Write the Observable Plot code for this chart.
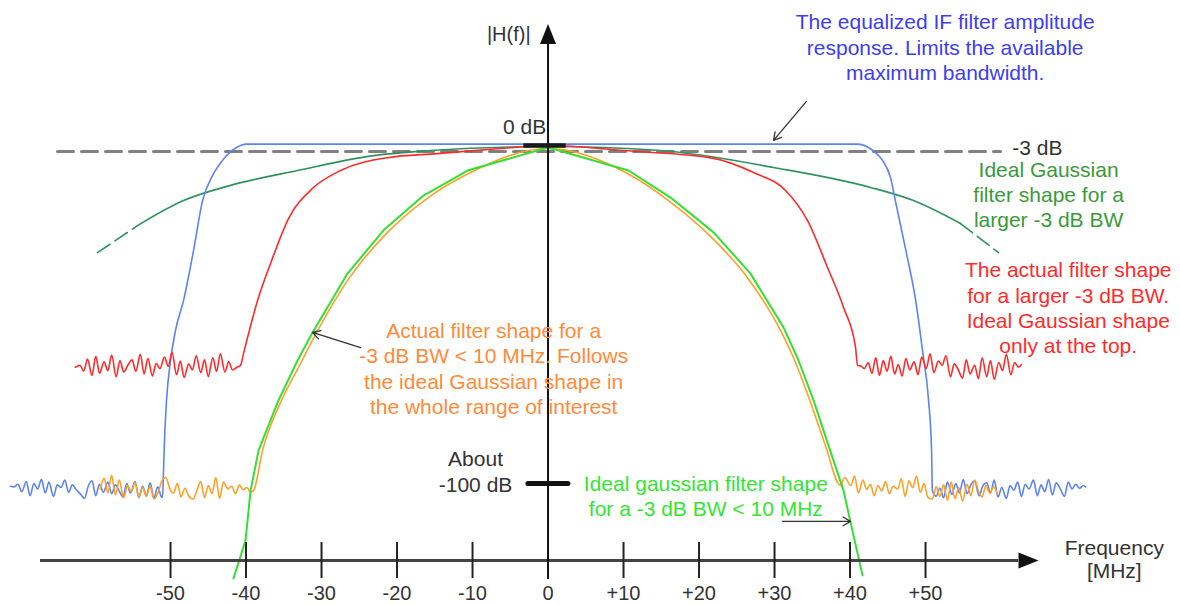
<!DOCTYPE html>
<html>
<head>
<meta charset="utf-8">
<script src="https://cdn.jsdelivr.net/npm/d3@7"></script>
<script src="https://cdn.jsdelivr.net/npm/@observablehq/plot@0.6"></script>
<style>
html, body { margin: 0; padding: 0; background: #fff; }
#chart svg { display: block; }
</style>
</head>
<body>
<div id="chart"></div>
<script>
// ---------- Data (frequency in MHz, level in dB) ----------
const tickValues = [-50, -40, -30, -20, -10, 0, 10, 20, 30, 40, 50];
const tickLabels = ["-50", "-40", "-30", "-20", "-10", "0", "+10", "+20", "+30", "+40", "+50"];

// Equalized IF filter (blue)
const blueNoiseLF = [-71.2,-70.7,-70.2,-69.7,-69.1,-68.6,-68.1,-67.6,-67.1,-66.6,-66.1,-65.5,-65.0,-64.5,-64.0,-63.5,-63.0,-62.5,-61.9,-61.4,-60.9,-60.4,-59.9,-59.4,-58.9,-58.3,-57.8,-57.3,-56.8,-56.3,-55.8,-55.3,-54.7,-54.2,-53.7,-53.2,-52.7,-52.2,-51.7,-51.2];
const blueNoiseLDb = [-100.8,-101.0,-100.2,-102.4,-99.4,-103.6,-100.0,-101.6,-98.8,-102.8,-99.6,-103.8,-100.4,-101.2,-99.0,-102.6,-100.4,-101.8,-103.2,-104.4,-100.8,-99.2,-103.6,-100.2,-102.6,-99.6,-103.0,-100.4,-102.2,-104.0,-100.0,-102.8,-99.4,-104.2,-100.8,-103.6,-99.8,-104.4,-101.0,-104.0];
const blueEdgeLF = [-51.06,-50.93,-50.80,-50.53,-50.0,-49.34,-48.28,-46.95,-45.76,-44.44,-43.11,-42.05,-40.99,-40.07];
const blueEdgeLDb = [-104.1,-96.2,-87.3,-75.4,-63.6,-54.7,-45.9,-31.1,-16.3,-8.9,-4.4,-1.8,-0.3,0.4];
const blueEdgeRF = [41.0,42.2,43.2,44.3,45.4,46.0,47.4,48.7,49.6,50.4,50.8,50.9];
const blueEdgeRDb = [0.4,-0.3,-1.8,-4.4,-9.8,-16.3,-31.1,-45.9,-60.7,-75.4,-90.2,-102.1];
const blueNoiseRF = [51.4,51.9,52.4,52.9,53.5,54.0,54.5,55.0,55.5,56.0,56.5,57.1,57.6,58.1,58.6,59.1,59.6,60.1,60.7,61.2,61.7,62.2,62.7,63.2,63.7,64.3,64.8,65.3,65.8,66.3,66.8,67.3,67.9,68.4,68.9,69.4,69.9,70.4,70.9,71.2];
const blueNoiseRDb = [-103.8,-101.4,-104.2,-99.6,-103.2,-100.0,-102.8,-98.8,-103.0,-100.4,-99.2,-103.6,-100.6,-99.8,-102.8,-99.0,-104.0,-101.2,-104.4,-100.6,-102.0,-99.6,-103.8,-100.2,-101.6,-99.0,-103.6,-100.4,-102.4,-98.8,-103.4,-99.8,-101.8,-103.8,-99.6,-101.6,-100.2,-101.4,-100.6,-101.0];

// Actual filter, larger BW (red)
const redNoiseLF = [-62.6,-62.0,-61.5,-61.0,-60.4,-59.9,-59.4,-58.8,-58.3,-57.8,-57.2,-56.7,-56.2,-55.6,-55.1,-54.6,-54.0,-53.5,-53.0,-52.4,-51.9,-51.4,-50.8,-50.3,-49.8,-49.2,-48.7,-48.2,-47.6,-47.1,-46.6,-46.0,-45.5,-45.0,-44.4,-43.9,-43.4,-42.8,-42.3,-41.8,-41.2,-40.8];
const redNoiseLDb = [-65.6,-65.0,-66.8,-63.2,-68.0,-62.4,-67.4,-64.0,-66.6,-62.0,-68.4,-63.6,-67.0,-64.8,-63.4,-66.8,-61.8,-67.6,-63.0,-68.2,-64.4,-66.0,-62.6,-65.4,-61.2,-67.8,-63.8,-68.6,-64.6,-66.4,-62.2,-67.2,-63.4,-68.4,-62.8,-66.8,-61.6,-67.0,-64.0,-66.4,-65.6,-65.2];
const redMainF = [-40.73,-40.33,-38.48,-36.75,-34.37,-31.19,-27.48,-21.26,-14.64,-6.29,0,10.0,21.92,27.22,31.46,34.37,37.02,39.14,40.73,41.0];
const redMainDb = [-65.1,-61.5,-45.9,-34.9,-21.6,-12.7,-7.4,-3.6,-2.4,-0.9,0,-1.5,-3.8,-8.0,-13.3,-22.2,-36.1,-47.9,-59.8,-65.1];
const redNoiseRF = [41.4,41.9,42.4,42.9,43.4,43.9,44.4,44.9,45.4,45.9,46.4,46.9,47.4,47.9,48.5,49.0,49.5,50.1,50.6,51.1,51.7,52.2,52.7,53.3,53.8,54.3,54.9,55.4,55.9,56.5,57.0,57.5,58.1,58.6,59.1,59.7,60.2,60.7,61.3,61.8,62.3,62.7];
const redNoiseRDb = [-65.2,-66.0,-64.2,-67.4,-62.8,-68.0,-63.6,-66.8,-62.4,-67.6,-64.8,-68.2,-63.0,-66.4,-64.0,-67.8,-62.6,-66.0,-61.6,-67.2,-63.8,-65.0,-62.2,-68.4,-64.6,-66.2,-68.8,-63.4,-67.6,-65.0,-69.0,-62.8,-68.4,-63.6,-69.2,-64.2,-66.6,-61.8,-67.8,-64.2,-65.6,-64.8];

// Actual filter, BW < 10 MHz (orange)
const orangeNoiseLF = [-59.3,-58.8,-58.3,-57.8,-57.3,-56.8,-56.2,-55.7,-55.2,-54.7,-54.2,-53.7,-53.2,-52.7,-52.2,-51.6,-51.1,-50.6,-50.1,-49.6,-49.1,-48.6,-48.1,-47.6,-47.0,-46.5,-46.0,-45.5,-45.0,-44.5,-44.0,-43.5,-43.0,-42.4,-41.9,-41.4,-40.9,-40.4,-39.9,-39.4];
const orangeNoiseLDb = [-101.6,-98.4,-102.8,-97.6,-103.4,-99.0,-104.2,-100.6,-102.4,-99.8,-104.0,-101.2,-103.8,-100.8,-104.6,-102.4,-99.0,-98.2,-101.6,-102.8,-100.0,-104.0,-101.4,-103.6,-104.6,-102.0,-99.4,-104.2,-100.6,-103.0,-98.2,-104.4,-99.6,-101.6,-100.8,-103.0,-100.4,-101.8,-101.2,-102.6];
const orangeMainF = [-39.0,-37.81,-35.3,-32.78,-30.93,-26.29,-21.52,-16.23,-10.53,0,10.53,15.96,21.52,26.42,30.79,32.78,34.77,36.75,38.74];
const orangeMainDb = [-102.1,-90.2,-75.4,-64.5,-56.5,-39.1,-26.3,-16.0,-8.3,-0.9,-8.3,-16.3,-26.9,-39.1,-54.7,-64.2,-76.0,-88.8,-100.6];
const orangeNoiseRF = [39.3,40.1,40.6,41.1,41.7,42.2,42.7,43.2,43.7,44.2,44.7,45.2,45.7,46.3,46.8,47.3,47.8,48.3,48.8,49.3,49.8,50.3,50.9,51.4,51.9,52.4,52.9,53.4,53.9,54.4,54.9,55.5,56.0,56.5,57.0,57.5,58.0,58.5,59.0,59.5];
const orangeNoiseRDb = [-98.2,-100.6,-97.8,-102.8,-99.0,-101.8,-100.2,-103.6,-100.6,-102.2,-99.4,-103.0,-100.8,-101.6,-98.6,-103.8,-99.2,-101.2,-97.8,-102.6,-100.0,-104.0,-104.6,-101.0,-103.8,-100.4,-105.0,-99.6,-104.4,-101.2,-105.2,-100.2,-103.6,-99.0,-102.2,-104.0,-100.6,-102.8,-101.0,-103.0];

// Ideal Gaussian, BW < 10 MHz (light green)
const gaussNarrowF = [-41.66,-40.07,-39.4,-38.34,-35.7,-33.18,-31.19,-26.56,-21.79,-16.49,-10.66,0,10.66,16.23,21.92,26.82,31.19,33.18,35.17,37.15,39.14,40.07,41.66];
const gaussNarrowDb = [-128.1,-116.9,-102.1,-90.2,-75.4,-63.6,-55.3,-37.9,-25.1,-14.8,-7.4,-0.6,-7.4,-15.4,-25.7,-37.9,-53.8,-63.6,-75.4,-88.8,-102.1,-111.5,-127.2];

// Ideal Gaussian, larger BW (dark green)
const gaussWideF = [-54.37,-48.28,-42.05,-33.18,-23.11,-15.56,0,14.9,29.87,42.72,48.41,54.64];
const gaussWideDb = [-23.7,-16.3,-11.8,-7.4,-3.0,-1.5,-0.3,-1.5,-6.5,-12.4,-16.3,-23.1];
const gaussWideTailLF = [-59.67,-54.37];
const gaussWideTailLDb = [-31.7,-23.7];
const gaussWideTailRF = [54.64,59.67];
const gaussWideTailRDb = [-23.1,-31.7];

// -3 dB reference and level markers
const minus3F = [-64.97, 59.93];
const minus3Db = [-1.8, -1.8];
const markerLevels = [0, -100];

// Annotation texts
const labelBlue = "The equalized IF filter amplitude\nresponse. Limits the available\nmaximum bandwidth.";
const labelWide = "Ideal Gaussian\nfilter shape for a\nlarger -3 dB BW";
const labelRed = "The actual filter shape\nfor a larger -3 dB BW.\nIdeal Gaussian shape\nonly at the top.";
const labelOrange = "Actual filter shape for a\n-3 dB BW < 10 MHz. Follows\nthe ideal Gaussian shape in\nthe whole range of interest";
const labelNarrow = "Ideal gaussian filter shape\nfor a -3 dB BW < 10 MHz";
const labelAbout = "About\n-100 dB";

// ---------- Helpers ----------
const zip = (fs, dbs) => fs.map((f, i) => ({f, db: dbs[i]}));
const blueLine = [
  ...zip(blueNoiseLF, blueNoiseLDb), ...zip(blueEdgeLF, blueEdgeLDb),
  ...zip(blueEdgeRF, blueEdgeRDb), ...zip(blueNoiseRF, blueNoiseRDb)
];
const redLine = [...zip(redNoiseLF, redNoiseLDb), ...zip(redMainF, redMainDb), ...zip(redNoiseRF, redNoiseRDb)];
const orangeLine = [...zip(orangeNoiseLF, orangeNoiseLDb), ...zip(orangeMainF, orangeMainDb), ...zip(orangeNoiseRF, orangeNoiseRDb)];
const narrowLine = zip(gaussNarrowF, gaussNarrowDb);
const wideLine = zip(gaussWideF, gaussWideDb);
const wideTailL = zip(gaussWideTailLF, gaussWideTailLDb);
const wideTailR = zip(gaussWideTailRF, gaussWideTailRDb);
const minus3Line = zip(minus3F, minus3Db);
const ticks = tickValues.map((v, i) => ({f: v, label: tickLabels[i]}));

const arrowRight = {draw(ctx, size) { const r = Math.sqrt(size / Math.PI); ctx.moveTo(-r, -0.8 * r); ctx.lineTo(r, 0); ctx.lineTo(-r, 0.8 * r); ctx.closePath(); }};
const arrowUp = {draw(ctx, size) { const r = Math.sqrt(size / Math.PI); ctx.moveTo(-0.8 * r, r); ctx.lineTo(0, -r); ctx.lineTo(0.8 * r, r); ctx.closePath(); }};

const FONT = "Liberation Sans, Arial, Helvetica, sans-serif";
const C = {
  blue: "#5b84f2", red: "#ff2a2a", orange: "#ffa028", narrow: "#33e033", wide: "#2f9160",
  blueText: "#3d3df0", wideText: "#3a9a3a", redText: "#ff2a2a", orangeText: "#ff8a3a", narrowText: "#33e633",
  axis: "#222", dash: "#808080", text: "#333"
};
const txt = (text, f, db, fill, extra = {}) =>
  Plot.text([text], {x: () => f, y: () => db, text: d => d, fill, fontSize: 21, fontFamily: FONT, lineHeight: 1.2, ...extra});
const SMOOTH = "monotone-x";

const chart = Plot.plot({
  width: 1180,
  height: 605,
  margin: 0,
  x: {domain: [-72.52, 83.77], range: [0, 1180], axis: null},
  y: {domain: [-136.09, 42.9], range: [605, 0], axis: null},
  style: {background: "#fff", fontFamily: FONT, overflow: "visible"},
  marks: [
    // -3 dB dashed reference
    Plot.line(minus3Line, {x: "f", y: "db", stroke: C.dash, strokeWidth: 3, strokeDasharray: "16,8"}),
    // ideal Gaussian larger BW
    Plot.line(wideLine, {x: "f", y: "db", stroke: C.wide, strokeWidth: 1.6, curve: SMOOTH}),
    Plot.line(wideTailL, {x: "f", y: "db", stroke: C.wide, strokeWidth: 1.6, strokeDasharray: "15,6"}),
    Plot.line(wideTailR, {x: "f", y: "db", stroke: C.wide, strokeWidth: 1.6, strokeDasharray: "15,6"}),
    // equalized IF filter
    Plot.line(blueLine, {x: "f", y: "db", stroke: C.blue, strokeWidth: 1.6, curve: SMOOTH}),
    // actual filter larger BW
    Plot.line(redLine, {x: "f", y: "db", stroke: C.red, strokeWidth: 1.6, curve: SMOOTH}),
    // actual filter < 10 MHz
    Plot.line(orangeLine, {x: "f", y: "db", stroke: C.orange, strokeWidth: 1.6, curve: SMOOTH}),
    // ideal Gaussian < 10 MHz
    Plot.line(narrowLine, {x: "f", y: "db", stroke: C.narrow, strokeWidth: 2}),

    // frequency axis
    Plot.ruleY([-122.8], {x1: -67.22, x2: 62.32, stroke: "#444", strokeWidth: 3}),
    Plot.dot([{f: 63.64, db: -122.8}], {x: "f", y: "db", r: 10, symbol: arrowRight, fill: "#111", stroke: "none"}),
    Plot.ruleX(ticks.filter(d => d.f !== 0), {x: "f", y1: -117.46, y2: -128.1, stroke: C.axis, strokeWidth: 2}),
    Plot.text(ticks, {x: "f", y: () => -132.6, text: "label", fill: C.text, fontSize: 20, fontFamily: FONT}),
    // vertical axis
    Plot.ruleX([0], {y1: -128.4, y2: 30.5, stroke: "#111", strokeWidth: 2}),
    Plot.dot([{f: 0, db: 33.0}], {x: "f", y: "db", r: 10, symbol: arrowUp, fill: "#111", stroke: "none"}),

    // level markers
    Plot.ruleY(markerLevels.slice(0, 1), {y: d => d, x1: -3.2, x2: 2.4, stroke: "#1a1a1a", strokeWidth: 4.5}),
    Plot.ruleY(markerLevels.slice(1), {y: d => d, x1: -2.6, x2: 2.7, stroke: "#111", strokeWidth: 5, strokeLinecap: "round"}),

    // pointer arrows
    Plot.arrow([{x1: 34.2, y1: 13.0, x2: 29.87, y2: 1.5}], {x1: "x1", y1: "y1", x2: "x2", y2: "y2", stroke: "#333", strokeWidth: 1.3, headLength: 10}),
    Plot.arrow([{x1: -24.83, y1: -59.8, x2: -31.19, y2: -55.3}], {x1: "x1", y1: "y1", x2: "x2", y2: "y2", stroke: "#333", strokeWidth: 1.3, headLength: 10}),
    Plot.arrow([{x1: 31.06, y1: -111.2, x2: 40.07, y2: -111.2}], {x1: "x1", y1: "y1", x2: "x2", y2: "y2", stroke: "#333", strokeWidth: 1.3, headLength: 10}),

    // texts
    txt("|H(f)|", -5.2, 33.1, C.text, {fontSize: 20}),
    txt("0 dB", -3.1, 5.9, C.text),
    txt("-3 dB", 61.5, -0.4, C.text, {textAnchor: "start"}),
    txt(labelBlue, 52.6, 29.3, C.blueText),
    txt(labelWide, 66.3, -14.4, C.wideText),
    txt(labelRed, 68.9, -47.8, C.redText),
    txt(labelOrange, -7.2, -65.8, C.orangeText),
    txt(labelAbout, -9.6, -96.3, C.text),
    txt(labelNarrow, 20.9, -103.6, C.narrowText),
    txt("Frequency\n[MHz]", 75.0, -122.3, C.text, {lineHeight: 1.1})
  ]
});
document.getElementById("chart").appendChild(chart);
</script>
</body>
</html>
